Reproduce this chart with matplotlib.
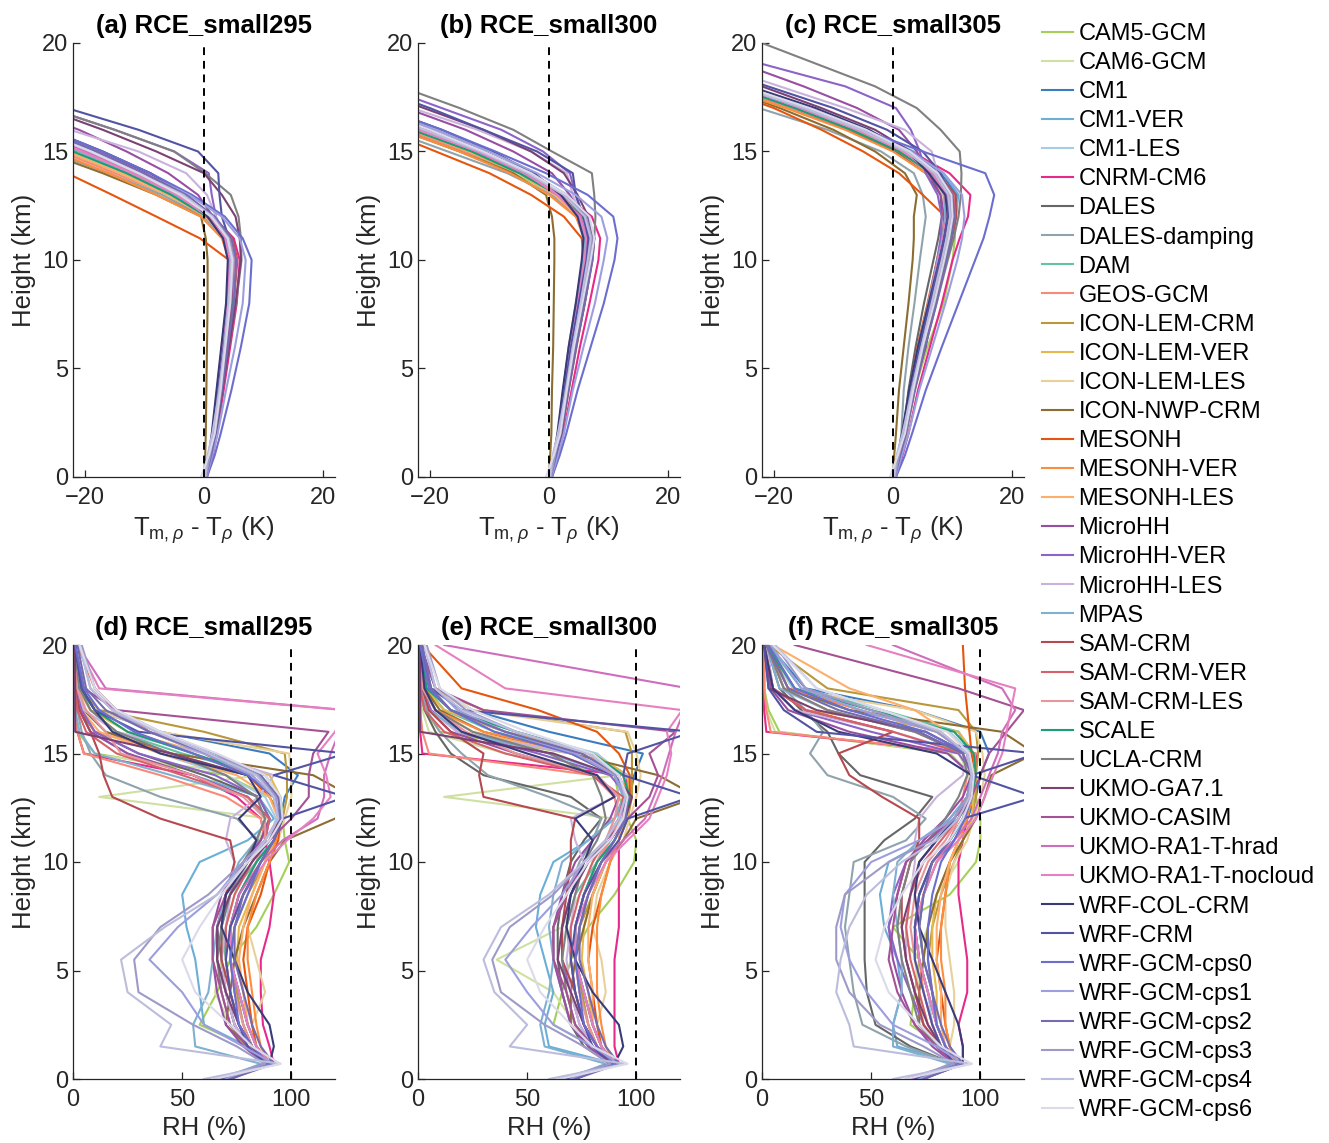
import numpy as np
import matplotlib
matplotlib.use("Agg")
import matplotlib.pyplot as plt

plt.rcParams['font.family'] = ['Liberation Sans', 'DejaVu Sans']
plt.rcParams['mathtext.fontset'] = 'custom'
plt.rcParams['mathtext.rm'] = 'Liberation Sans'
plt.rcParams['mathtext.it'] = 'Liberation Sans:italic'

models = ['CAM5-GCM', 'CAM6-GCM', 'CM1', 'CM1-VER', 'CM1-LES', 'CNRM-CM6', 'DALES',
          'DALES-damping', 'DAM', 'GEOS-GCM', 'ICON-LEM-CRM', 'ICON-LEM-VER',
          'ICON-LEM-LES', 'ICON-NWP-CRM', 'MESONH', 'MESONH-VER', 'MESONH-LES',
          'MicroHH', 'MicroHH-VER', 'MicroHH-LES', 'MPAS', 'SAM-CRM', 'SAM-CRM-VER',
          'SAM-CRM-LES', 'SCALE', 'UCLA-CRM', 'UKMO-GA7.1', 'UKMO-CASIM',
          'UKMO-RA1-T-hrad', 'UKMO-RA1-T-nocloud', 'WRF-COL-CRM', 'WRF-CRM',
          'WRF-GCM-cps0', 'WRF-GCM-cps1', 'WRF-GCM-cps2', 'WRF-GCM-cps3',
          'WRF-GCM-cps4', 'WRF-GCM-cps6']

colors = ['#a6cf5a', '#cfe0a0', '#3a7dbf', '#6baed6', '#a6cde6', '#e7298a', '#666666',
          '#8fa3ad', '#66c2a5', '#f88a7a', '#b8983a', '#e6b84a', '#e8d09a', '#8c6d31',
          '#e6550d', '#fd8d3c', '#fdae6b', '#984ea3', '#8c63c8', '#c9b3dc', '#7fb0d0',
          '#b5494f', '#d6616b', '#e7969c', '#1b9e77', '#808080', '#7b4173', '#a55194',
          '#ce6dbd', '#e680c0', '#393b79', '#5254a3', '#6b6ecf', '#9c9ede', '#756bb1',
          '#9e9ac8', '#bcbddc', '#dadaeb']

cases = ['RCE_small295', 'RCE_small300', 'RCE_small305']

# heights (km) of the profile values
z_temp = [0, 1, 2, 4, 6, 8, 10, 11, 12, 13, 14, 15, 16, 17, 18, 20]
z_rh = [0, 0.7, 1.5, 2.5, 4, 5.5, 7, 8.5, 10, 11, 12, 13, 14, 15, 16, 17, 18, 20]

# T_m,rho - T_rho (K)
temp_295 = [
    [0.2, 1.2, 1.8, 2.6, 3.5, 4.4, 4.6, 3.5, 0.5, -6, -14, -23, -32, -42, -52, -72],
    [0.3, 1.0, 1.5, 2.3, 3.0, 3.8, 4.2, 3.4, 0.2, -7, -15, -24, -33, -43, -53, -73],
    [0.3, 1.1, 1.7, 2.6, 3.6, 4.7, 5.2, 4.2, 1.2, -3.5, -10, -18, -27, -37, -47, -67],
    [0.2, 1.0, 1.6, 2.5, 3.4, 4.5, 5.0, 4.0, 1.0, -4, -11, -19, -28, -38, -48, -68],
    [0.3, 1.0, 1.5, 2.3, 3.2, 4.1, 4.6, 3.6, 0.8, -4.5, -12, -20, -29, -39, -49, -69],
    [0.5, 1.5, 2.2, 3.3, 4.4, 5.5, 6.0, 5.0, 1.5, -3, -9, -18, -27, -37, -47, -67],
    [0.3, 1.0, 1.6, 2.5, 3.4, 4.3, 4.8, 3.9, 1.0, -4, -11, -19, -28, -38, -48, -68],
    [0.3, 1.0, 1.5, 2.3, 3.1, 4.0, 4.3, 3.2, 0.0, -7, -16, -26, -36, -46, -56, -76],
    [0.3, 1.1, 1.8, 2.7, 3.7, 4.6, 4.8, 3.6, 0.5, -6, -14, -23, -32, -42, -52, -72],
    [0.2, 1.0, 1.5, 2.2, 3.0, 4.0, 4.5, 3.6, 0.4, -6, -15, -24, -33, -43, -53, -73],
    [0.3, 1.0, 1.6, 2.5, 3.4, 4.3, 4.7, 3.8, 0.8, -5, -13, -21, -30, -40, -50, -70],
    [0.3, 1.0, 1.6, 2.4, 3.3, 4.2, 4.6, 3.6, 0.6, -5.5, -13.5, -22, -31, -41, -51, -71],
    [0.2, 0.9, 1.5, 2.3, 3.1, 4.0, 4.4, 3.5, 0.5, -6, -14, -22, -31, -41, -51, -71],
    [0.0, 0.2, 0.3, 0.4, 0.5, 0.6, 0.6, 0.3, -0.5, -8, -17, -27, -37, -47, -57, -77],
    [0.3, 1.0, 1.5, 2.4, 3.2, 4.1, 4.2, -0.7, -8, -15.4, -23, -31, -40, -50, -60, -80],
    [0.3, 1.0, 1.6, 2.5, 3.3, 4.2, 4.2, 3.0, -0.5, -8, -16, -25, -34, -44, -54, -74],
    [0.3, 1.0, 1.6, 2.5, 3.3, 4.2, 4.5, 3.4, 0.3, -6, -14, -23, -32, -42, -52, -72],
    [0.3, 1.1, 1.7, 2.6, 3.5, 4.4, 4.8, 4.0, 1.5, -1, -6, -13, -21, -31, -41, -61],
    [0.3, 1.1, 1.7, 2.6, 3.5, 4.4, 4.8, 3.5, 2.0, 1.3, 0.8, -5, -15, -26, -36, -56],
    [0.3, 1.0, 1.6, 2.5, 3.4, 4.3, 4.8, 4.0, 2.0, 0.5, -3, -11, -22.5, -33, -43, -63],
    [0.2, 0.9, 1.4, 2.2, 3.0, 3.8, 4.2, 3.4, 0.6, -5, -13, -21, -30, -40, -50, -70],
    [0.4, 1.2, 2.0, 3.0, 4.0, 5.0, 5.6, 4.8, 1.5, -3.5, -10, -18, -27, -37, -47, -67],
    [0.4, 1.2, 1.9, 2.9, 3.9, 4.9, 5.5, 4.6, 1.3, -4, -11, -19, -28, -38, -48, -68],
    [0.3, 1.1, 1.8, 2.7, 3.7, 4.7, 5.2, 4.3, 1.0, -4.5, -12, -20, -29, -39, -49, -69],
    [0.3, 1.2, 2.0, 3.0, 4.0, 4.7, 4.8, 3.8, 0.5, -5.5, -13, -22, -31, -41, -51, -71],
    [0.4, 1.3, 2.0, 3.1, 4.2, 5.4, 6.3, 6.2, 5.8, 4.5, 0.2, -5, -15, -26, -36, -56],
    [0.4, 1.3, 2.0, 3.1, 4.2, 5.3, 6.2, 6.0, 5.3, 3.0, 0.0, -8, -17, -27, -37, -57],
    [0.3, 1.1, 1.8, 2.7, 3.7, 4.6, 5.0, 4.2, 1.5, -3, -10, -18, -27, -37, -47, -67],
    [0.3, 1.0, 1.6, 2.4, 3.2, 4.0, 4.4, 3.6, 0.8, -4.5, -12, -20, -29, -39, -49, -69],
    [0.3, 1.0, 1.5, 2.3, 3.0, 3.9, 4.3, 3.5, 0.7, -4.5, -12, -20.5, -29, -39, -49, -69],
    [0.2, 0.8, 1.3, 2.1, 2.9, 3.7, 4.0, 3.2, 0.6, -3, -9, -17, -26, -36, -46, -66],
    [0.3, 1.0, 1.6, 2.4, 3.3, 4.2, 4.8, 4.2, 3.0, 2.6, 2.4, -1, -11, -23, -33, -53],
    [0.5, 1.8, 2.8, 4.6, 6.2, 7.6, 8.0, 6.5, 3.5, -2, -9, -17, -26, -36, -46, -66],
    [0.4, 1.4, 2.3, 3.7, 5.2, 6.5, 7.0, 6.0, 3.0, -2.5, -10, -18, -27, -37, -47, -67],
    [0.3, 1.2, 1.9, 3.0, 4.0, 5.0, 5.4, 4.6, 1.8, -3, -10, -18, -27, -37, -47, -67],
    [0.3, 1.0, 1.6, 2.5, 3.5, 4.4, 5.0, 4.2, 1.5, -3.5, -11, -19, -28, -38, -48, -68],
    [0.2, 0.6, 1.4, 2.6, 3.4, 4.1, 4.6, 3.9, 1.4, -3.5, -11, -19, -28, -38, -48, -68],
    [-0.5, 0.8, 1.8, 2.8, 3.6, 4.4, 4.8, 4.0, 1.2, -4, -11, -19, -28, -38, -48, -68],
]

temp_300 = [
    [0.2, 1.2, 1.9, 2.9, 4.0, 5.4, 6.4, 6.5, 5.0, 1.0, -6, -14, -23, -33, -43, -63],
    [0.3, 1.0, 1.6, 2.5, 3.5, 4.8, 5.8, 6.0, 4.6, 0.5, -6.5, -15, -24, -34, -44, -64],
    [0.3, 1.1, 1.8, 2.9, 4.2, 5.7, 7.2, 7.6, 6.5, 2.8, -3, -11, -21, -31, -41, -61],
    [0.2, 1.0, 1.7, 2.7, 3.9, 5.3, 6.8, 7.2, 6.0, 2.2, -3.5, -11.5, -21, -31, -41, -61],
    [0.3, 1.0, 1.6, 2.5, 3.6, 4.9, 6.2, 6.5, 5.4, 1.8, -4, -12, -22, -32, -42, -62],
    [0.5, 1.6, 2.4, 3.8, 5.2, 6.8, 8.3, 8.6, 7.2, 2.5, -3, -11, -21, -31, -41, -61],
    [0.3, 1.0, 1.6, 2.6, 3.7, 5.0, 6.2, 6.4, 5.3, 1.5, -4.5, -13, -23, -33, -43, -63],
    [0.3, 1.0, 1.5, 2.4, 3.4, 4.7, 5.7, 5.8, 4.6, 0.5, -7, -17, -27, -37, -47, -67],
    [0.3, 1.1, 1.8, 2.9, 4.1, 5.5, 6.8, 7.0, 5.7, 1.8, -4, -12, -22, -32, -42, -62],
    [0.2, 1.0, 1.5, 2.4, 3.4, 4.7, 5.8, 6.0, 4.8, 1.0, -5, -14, -24, -34, -44, -64],
    [0.3, 1.0, 1.6, 2.6, 3.7, 5.0, 6.2, 6.5, 5.4, 1.6, -4.5, -12.5, -22, -32, -42, -62],
    [0.3, 1.0, 1.6, 2.5, 3.6, 4.9, 6.0, 6.3, 5.2, 1.2, -5, -13, -23, -33, -43, -63],
    [0.2, 0.9, 1.5, 2.4, 3.4, 4.6, 5.8, 6.0, 5.0, 1.0, -5, -13, -23, -33, -43, -63],
    [0.0, 0.2, 0.4, 0.5, 0.7, 0.8, 0.9, 0.9, 0.5, -0.5, -6, -15, -25, -35, -45, -65],
    [0.3, 1.0, 1.6, 2.5, 3.5, 4.7, 5.8, 5.5, 2.5, -3, -10, -19, -28, -38, -48, -68],
    [0.3, 1.0, 1.6, 2.6, 3.6, 4.9, 6.0, 6.0, 4.5, 0.0, -6.5, -15, -25, -35, -45, -65],
    [0.3, 1.0, 1.6, 2.6, 3.6, 4.9, 6.1, 6.3, 5.0, 1.0, -5, -13.5, -23, -33, -43, -63],
    [0.3, 1.1, 1.8, 2.8, 3.9, 5.2, 6.5, 6.8, 5.8, 3.5, 0.5, -6, -14, -24, -34, -54],
    [0.3, 1.1, 1.8, 2.8, 3.9, 5.2, 6.5, 6.8, 5.5, 4.5, 3.5, -1, -8, -18, -28, -48],
    [0.3, 1.0, 1.7, 2.7, 3.8, 5.0, 6.3, 6.5, 5.5, 4.0, 3.0, -3, -12, -23, -33, -53],
    [0.2, 0.9, 1.5, 2.4, 3.3, 4.5, 5.7, 6.0, 5.0, 1.5, -4.5, -12.5, -22, -32, -42, -62],
    [0.4, 1.3, 2.1, 3.3, 4.6, 6.0, 7.3, 7.6, 6.4, 2.5, -3.5, -11, -20, -30, -40, -60],
    [0.4, 1.2, 2.0, 3.2, 4.4, 5.8, 7.0, 7.4, 6.2, 2.2, -4, -12, -21, -31, -41, -61],
    [0.3, 1.1, 1.9, 3.0, 4.2, 5.5, 6.7, 7.0, 5.9, 2.0, -4, -12, -21.5, -31, -41, -61],
    [0.3, 1.2, 2.0, 3.2, 4.4, 5.8, 6.9, 7.0, 5.6, 1.5, -5, -13, -23, -33, -43, -63],
    [0.4, 1.3, 2.1, 3.3, 4.6, 6.0, 7.2, 7.6, 7.8, 7.6, 7.2, 0.5, -6, -15, -25, -45],
    [0.4, 1.3, 2.1, 3.2, 4.5, 5.9, 7.1, 7.4, 6.6, 4.8, 2.5, -3, -11, -21, -31, -51],
    [0.3, 1.1, 1.8, 2.9, 4.0, 5.4, 6.6, 6.9, 5.8, 2.5, -3, -11, -20, -30, -40, -60],
    [0.3, 1.0, 1.6, 2.6, 3.6, 4.9, 6.1, 6.4, 5.3, 1.5, -4, -12, -21.5, -31, -41, -61],
    [0.3, 1.0, 1.6, 2.5, 3.5, 4.8, 6.0, 6.3, 5.1, 1.4, -4, -12, -22, -32, -42, -62],
    [0.2, 0.8, 1.4, 2.3, 3.3, 4.5, 5.5, 5.8, 4.8, 2.0, -2.5, -9.5, -18, -28, -38, -58],
    [0.3, 1.0, 1.6, 2.6, 3.7, 5.0, 6.3, 6.6, 5.8, 4.5, 4.0, -2, -11, -20, -30, -50],
    [0.5, 1.8, 2.9, 4.8, 7.0, 9.2, 11.0, 11.5, 10.8, 6.5, -0.5, -9, -18, -28, -38, -58],
    [0.4, 1.5, 2.5, 4.0, 5.8, 7.7, 9.2, 9.8, 8.8, 4.5, -2, -10, -19, -29, -39, -59],
    [0.3, 1.2, 2.0, 3.2, 4.5, 6.0, 7.3, 7.6, 6.6, 3.0, -3, -11, -20, -30, -40, -60],
    [0.3, 1.0, 1.7, 2.8, 4.0, 5.4, 6.8, 7.2, 6.2, 2.5, -3.5, -11.5, -21, -31, -41, -61],
    [0.2, 0.6, 1.5, 2.9, 4.0, 5.3, 6.5, 7.0, 6.0, 2.5, -3.5, -11.5, -21, -31, -41, -61],
    [-0.5, 0.8, 1.9, 3.0, 4.2, 5.6, 7.0, 7.6, 6.8, 3.0, -3, -11, -20, -30, -40, -60],
]

temp_305 = [
    [0.2, 1.2, 2.0, 3.6, 5.8, 8.5, 10.0, 10.4, 10.4, 9.8, 7.0, 2.0, -6, -16, -27, -49],
    [0.3, 1.0, 1.7, 3.0, 4.6, 6.5, 8.2, 8.8, 9.0, 8.5, 6.0, 1.0, -7, -17, -28, -50],
    [0.3, 1.2, 2.0, 3.4, 5.1, 7.0, 8.8, 9.8, 10.6, 10.8, 8.0, 3.0, -5, -14, -25, -47],
    [0.2, 1.0, 1.9, 3.3, 4.9, 6.8, 8.6, 9.6, 10.5, 11.0, 8.5, 3.5, -4.5, -14, -25, -47],
    [0.3, 1.0, 1.8, 3.1, 4.6, 6.4, 8.1, 9.0, 9.8, 10.0, 7.5, 2.5, -5.5, -15, -26, -48],
    [0.5, 1.6, 2.6, 4.2, 6.2, 8.2, 10.0, 11.2, 12.6, 13.0, 9.5, 3.0, -5, -14, -25, -47],
    [0.3, 1.0, 1.7, 2.6, 3.8, 5.2, 6.8, 7.6, 8.2, 8.0, 5.5, 0.5, -7.5, -17, -28, -50],
    [0.3, 0.9, 1.4, 1.8, 2.6, 3.6, 4.5, 5.0, 5.5, 5.0, 3.5, -2, -11, -22.5, -34, -56],
    [0.3, 1.1, 2.0, 3.3, 4.9, 6.8, 8.6, 9.5, 10.2, 10.0, 7.0, 2.0, -6, -15, -26, -48],
    [0.2, 1.0, 1.6, 2.8, 4.2, 6.0, 7.6, 8.4, 9.0, 8.6, 6.0, 1.0, -7, -17, -28, -50],
    [0.3, 1.0, 1.8, 3.0, 4.5, 6.2, 7.8, 8.6, 9.2, 9.0, 7.0, 2.5, -5, -15, -26, -48],
    [0.3, 1.0, 1.7, 2.9, 4.3, 6.0, 7.6, 8.4, 8.8, 8.4, 6.5, 2.0, -5.5, -15, -26, -48],
    [0.2, 0.9, 1.6, 2.8, 4.2, 5.9, 7.4, 8.2, 8.6, 8.2, 6.2, 1.5, -6, -16, -27, -49],
    [0.0, 0.2, 0.5, 1.0, 1.8, 2.6, 3.3, 3.5, 3.5, 4.0, 2.0, -3, -10, -19, -29, -51],
    [0.3, 1.0, 1.7, 2.8, 4.1, 5.8, 7.4, 8.2, 8.8, 5.0, 1.0, -5, -12, -20, -30, -52],
    [0.3, 1.0, 1.8, 3.0, 4.5, 6.2, 7.8, 8.7, 9.4, 9.0, 5.5, 0.0, -8, -18, -29, -51],
    [0.3, 1.0, 1.8, 3.0, 4.4, 6.1, 7.7, 8.6, 9.2, 9.0, 6.5, 1.5, -6.5, -16, -27, -49],
    [0.3, 1.1, 1.9, 3.1, 4.6, 6.3, 7.8, 8.4, 8.6, 8.0, 6.0, 4.0, 1.0, -6, -15, -35],
    [0.3, 1.1, 1.9, 3.0, 4.4, 6.0, 7.4, 8.0, 8.2, 7.5, 5.5, 4.5, 3.0, 0.5, -8, -35],
    [0.3, 1.0, 1.8, 3.0, 4.4, 6.1, 7.6, 8.4, 8.8, 8.5, 7.5, 6.5, 2.0, -8, -19, -41],
    [0.2, 0.9, 1.6, 2.8, 4.2, 5.9, 7.5, 8.3, 8.8, 8.6, 6.5, 2.0, -6, -16, -27, -49],
    [0.4, 1.3, 2.2, 3.6, 5.3, 7.2, 9.0, 9.9, 10.6, 10.5, 7.5, 2.5, -5, -14.5, -25, -47],
    [0.4, 1.2, 2.1, 3.5, 5.1, 7.0, 8.8, 9.7, 10.4, 10.2, 7.2, 2.2, -5.5, -15, -26, -48],
    [0.3, 1.1, 2.0, 3.3, 4.9, 6.7, 8.5, 9.4, 10.0, 9.8, 7.0, 2.0, -6, -15.5, -26, -48],
    [0.3, 1.2, 2.1, 3.5, 5.1, 6.9, 8.6, 9.5, 10.0, 9.6, 6.5, 1.0, -7, -16.5, -27, -49],
    [0.4, 1.3, 2.2, 3.7, 5.4, 7.3, 9.2, 10.2, 11.0, 11.4, 11.5, 11.2, 8.0, 4.0, -3, -22],
    [0.4, 1.2, 2.0, 3.3, 5.5, 6.8, 8.0, 8.6, 9.0, 8.8, 6.8, 3.0, -3, -12, -22, -44],
    [0.3, 1.1, 1.9, 3.2, 4.8, 6.6, 8.4, 9.2, 9.8, 9.5, 7.0, 2.0, -5.5, -15, -26, -48],
    [0.3, 1.0, 1.8, 3.0, 4.4, 6.1, 7.8, 8.6, 9.2, 9.0, 6.8, 2.0, -5.5, -15, -26, -48],
    [0.3, 1.0, 1.7, 2.9, 4.3, 6.0, 7.6, 8.4, 9.0, 8.8, 6.6, 1.8, -6, -15.5, -26, -48],
    [0.2, 0.8, 1.5, 2.7, 4.2, 6.0, 7.8, 8.6, 9.2, 8.8, 6.0, 2.5, -4, -13, -24, -46],
    [0.3, 1.0, 1.8, 3.0, 4.5, 6.2, 7.8, 8.6, 9.2, 9.4, 8.0, 5.0, -1, -10, -21, -43],
    [0.5, 2.0, 3.2, 5.5, 8.2, 11.0, 13.8, 15.2, 16.2, 17.0, 15.5, 5.0, -5, -15, -26, -48],
    [0.4, 1.5, 2.6, 4.4, 6.6, 8.8, 10.8, 11.6, 12.0, 11.6, 8.5, 3.0, -5, -14.5, -25, -47],
    [0.3, 1.2, 2.1, 3.6, 5.4, 7.3, 9.0, 9.8, 10.3, 10.0, 7.5, 2.5, -5, -14.5, -25, -47],
    [0.3, 1.0, 1.8, 3.1, 4.8, 6.6, 8.3, 9.1, 9.7, 9.5, 7.2, 2.5, -5, -14.5, -25, -47],
    [0.2, 0.6, 1.6, 3.2, 4.8, 6.5, 8.2, 9.0, 9.6, 9.3, 7.0, 2.2, -5.5, -15, -26, -48],
    [-0.5, 0.8, 2.0, 3.4, 5.0, 6.9, 8.6, 9.4, 10.0, 9.8, 7.5, 2.8, -4.5, -14, -25, -47],
]

# relative humidity (%)
rh_295 = [
    [72, 90, 80, 58, 66, 72, 84, 92, 99, 97, 96, 90, 70, 10, 2, 1, 1, 1],
    [70, 88, 80, 72, 65, 68, 70, 74, 80, 85, 90, 12, 85, 5, 2, 1, 1, 1],
    [70, 90, 84, 80, 76, 72, 72, 78, 86, 92, 95, 97, 103, 90, 40, 10, 4, 1],
    [68, 90, 80, 60, 58, 56, 52, 50, 58, 80, 92, 85, 55, 25, 8, 3, 1, 1],
    [70, 91, 82, 78, 75, 72, 72, 76, 84, 90, 93, 88, 70, 40, 15, 5, 2, 1],
    [68, 92, 90, 87, 86, 86, 90, 92, 90, 88, 86, 75, 55, 5, 2, 1, 1, 1],
    [70, 90, 80, 74, 70, 68, 66, 70, 78, 86, 90, 85, 60, 30, 10, 3, 1, 1],
    [70, 90, 80, 74, 70, 66, 66, 72, 80, 85, 75, 40, 15, 8, 4, 2, 1, 1],
    [70, 90, 82, 76, 72, 70, 68, 72, 84, 92, 96, 95, 88, 50, 20, 8, 3, 1],
    [70, 88, 82, 78, 74, 72, 72, 76, 84, 88, 86, 70, 40, 5, 2, 1, 1, 1],
    [70, 90, 82, 78, 75, 72, 74, 80, 88, 92, 96, 98, 98, 97, 60, 12, 3, 1],
    [70, 90, 84, 80, 78, 75, 76, 82, 88, 93, 96, 95, 90, 60, 25, 8, 2, 1],
    [70, 90, 84, 82, 88, 84, 80, 84, 90, 94, 97, 100, 100, 99, 40, 10, 3, 1],
    [70, 88, 80, 70, 72, 74, 78, 84, 90, 97, 120, 128, 110, 45, 15, 5, 2, 1],
    [70, 90, 84, 82, 80, 78, 80, 86, 90, 94, 95, 90, 80, 60, 35, 20, 10, 2],
    [70, 90, 86, 84, 82, 80, 80, 84, 90, 93, 95, 92, 80, 45, 10, 4, 1, 1],
    [70, 90, 84, 80, 78, 76, 78, 82, 88, 92, 94, 90, 75, 40, 12, 4, 1, 1],
    [68, 88, 78, 70, 66, 64, 64, 68, 78, 86, 90, 80, 55, 25, 8, 3, 1, 1],
    [70, 90, 80, 74, 70, 66, 66, 70, 80, 88, 90, 85, 65, 30, 10, 4, 2, 1],
    [70, 88, 80, 74, 70, 68, 70, 72, 74, 70, 72, 85, 92, 60, 20, 5, 2, 1],
    [68, 86, 56, 55, 62, 64, 66, 70, 76, 84, 88, 80, 45, 10, 3, 1, 1, 1],
    [70, 90, 82, 76, 72, 68, 68, 70, 74, 72, 40, 18, 14, 12, 8, 3, 1, 1],
    [70, 90, 82, 76, 72, 70, 70, 74, 82, 88, 90, 80, 50, 20, 6, 2, 1, 1],
    [70, 90, 82, 78, 74, 72, 72, 76, 84, 88, 88, 78, 55, 22, 15, 6, 2, 1],
    [70, 90, 84, 80, 76, 72, 72, 76, 84, 92, 96, 94, 85, 55, 25, 10, 3, 1],
    [70, 88, 80, 72, 68, 66, 68, 72, 78, 84, 88, 84, 70, 45, 20, 8, 3, 1],
    [70, 88, 82, 76, 70, 66, 66, 72, 82, 90, 95, 92, 80, 45, 1, 1, 1, 1],
    [70, 88, 80, 72, 68, 64, 64, 70, 80, 90, 100, 108, 108, 110, 117, 20, 5, 1],
    [70, 90, 84, 80, 76, 72, 72, 76, 86, 96, 112, 115, 115, 118, 122, 125, 15, 2],
    [70, 90, 84, 80, 76, 72, 72, 78, 88, 98, 110, 118, 116, 112, 120, 124, 12, 2],
    [72, 90, 92, 90, 80, 74, 68, 70, 80, 84, 76, 86, 80, 40, 18, 10, 4, 1],
    [68, 88, 80, 76, 72, 70, 72, 78, 86, 92, 96, 125, 92, 125, 30, 10, 4, 1],
    [70, 90, 82, 76, 74, 72, 74, 80, 86, 92, 95, 92, 80, 55, 28, 12, 5, 1],
    [70, 92, 78, 60, 50, 35, 48, 66, 78, 88, 94, 92, 82, 60, 35, 18, 8, 3],
    [72, 92, 86, 82, 78, 74, 74, 78, 86, 92, 95, 94, 86, 62, 35, 15, 6, 2],
    [65, 88, 75, 55, 30, 28, 40, 62, 78, 88, 94, 93, 85, 65, 40, 20, 10, 4],
    [60, 95, 40, 45, 25, 22, 42, 66, 80, 88, 94, 92, 84, 62, 38, 18, 8, 3],
    [65, 95, 82, 72, 56, 50, 58, 68, 80, 90, 96, 95, 88, 66, 40, 20, 10, 3],
]

rh_300 = [
    [72, 90, 80, 62, 66, 70, 78, 90, 99, 100, 96, 92, 90, 70, 10, 3, 1, 1],
    [70, 88, 80, 72, 62, 36, 66, 74, 80, 86, 90, 12, 92, 40, 5, 2, 1, 1],
    [70, 90, 84, 80, 76, 72, 72, 76, 82, 88, 94, 97, 99, 103, 60, 25, 8, 1],
    [68, 90, 60, 58, 62, 58, 54, 56, 62, 78, 90, 96, 96, 80, 40, 12, 3, 1],
    [70, 91, 82, 78, 75, 72, 72, 76, 82, 88, 93, 96, 94, 82, 45, 15, 5, 1],
    [68, 92, 90, 90, 90, 90, 92, 92, 92, 92, 94, 95, 96, 2, 1, 1, 1, 1],
    [70, 88, 76, 70, 66, 64, 64, 66, 70, 76, 84, 70, 30, 15, 8, 3, 1, 1],
    [70, 88, 78, 70, 66, 62, 62, 68, 74, 80, 84, 60, 32, 20, 10, 4, 1, 1],
    [70, 90, 82, 76, 72, 70, 68, 72, 82, 90, 95, 97, 94, 75, 35, 12, 4, 1],
    [70, 88, 82, 78, 74, 72, 72, 76, 82, 88, 92, 90, 80, 5, 2, 1, 1, 1],
    [70, 90, 82, 78, 75, 72, 74, 80, 86, 92, 96, 98, 98, 98, 95, 30, 6, 1],
    [70, 90, 84, 80, 78, 75, 76, 80, 86, 92, 96, 97, 96, 80, 40, 12, 3, 1],
    [70, 90, 84, 82, 86, 84, 80, 82, 88, 94, 97, 100, 102, 100, 96, 25, 5, 1],
    [70, 88, 80, 70, 70, 72, 76, 80, 86, 94, 100, 128, 110, 70, 30, 10, 3, 1],
    [70, 90, 84, 82, 80, 78, 80, 84, 88, 92, 95, 97, 97, 92, 82, 55, 20, 2],
    [70, 90, 86, 84, 82, 82, 82, 84, 88, 92, 95, 96, 94, 75, 30, 8, 2, 1],
    [70, 90, 84, 80, 80, 78, 78, 80, 86, 92, 94, 96, 92, 70, 25, 8, 2, 1],
    [68, 88, 78, 70, 66, 62, 62, 66, 72, 80, 88, 92, 80, 45, 15, 5, 2, 1],
    [70, 90, 80, 74, 70, 66, 66, 70, 78, 86, 92, 96, 88, 55, 18, 6, 2, 1],
    [70, 88, 80, 74, 70, 68, 70, 72, 76, 72, 70, 90, 96, 70, 18, 5, 2, 1],
    [68, 86, 58, 56, 60, 62, 60, 62, 66, 78, 90, 94, 90, 60, 20, 5, 1, 1],
    [70, 90, 82, 76, 72, 66, 66, 68, 70, 70, 72, 30, 28, 30, 15, 5, 2, 1],
    [70, 90, 82, 76, 72, 70, 70, 74, 80, 86, 92, 94, 80, 40, 12, 3, 1, 1],
    [70, 90, 82, 78, 74, 72, 72, 76, 82, 86, 90, 92, 82, 45, 22, 8, 2, 1],
    [70, 90, 84, 80, 76, 72, 72, 76, 82, 90, 95, 97, 94, 80, 45, 15, 4, 1],
    [70, 88, 80, 72, 68, 66, 68, 72, 76, 82, 86, 84, 80, 60, 25, 8, 3, 1],
    [70, 88, 82, 76, 70, 64, 66, 70, 78, 88, 95, 98, 90, 62, 1, 1, 1, 1],
    [70, 88, 80, 72, 68, 62, 62, 68, 76, 86, 96, 106, 110, 106, 118, 30, 8, 1],
    [70, 90, 84, 80, 76, 72, 72, 76, 84, 94, 104, 108, 112, 115, 118, 122, 124, 12],
    [70, 90, 84, 80, 76, 72, 72, 78, 86, 96, 106, 110, 114, 116, 114, 121, 40, 8],
    [72, 90, 94, 92, 80, 72, 68, 70, 76, 80, 72, 90, 82, 50, 20, 8, 3, 1],
    [68, 88, 80, 76, 72, 70, 72, 76, 84, 92, 96, 125, 94, 96, 126, 20, 6, 1],
    [70, 90, 82, 76, 74, 72, 74, 78, 84, 90, 95, 96, 90, 70, 35, 15, 5, 1],
    [70, 92, 80, 62, 50, 40, 52, 66, 76, 86, 92, 95, 90, 72, 40, 18, 8, 3],
    [72, 92, 86, 82, 78, 74, 74, 78, 84, 90, 95, 96, 92, 75, 40, 15, 6, 2],
    [65, 88, 76, 58, 38, 34, 42, 62, 76, 86, 92, 95, 92, 78, 45, 22, 10, 4],
    [60, 95, 42, 50, 35, 30, 38, 60, 76, 86, 92, 95, 92, 78, 45, 20, 8, 3],
    [65, 96, 80, 70, 56, 50, 58, 68, 78, 88, 94, 96, 92, 80, 50, 25, 10, 3],
]

rh_305 = [
    [72, 90, 82, 68, 70, 72, 60, 86, 98, 100, 100, 98, 96, 86, 8, 3, 1, 1],
    [70, 88, 80, 74, 72, 70, 76, 80, 90, 92, 92, 94, 95, 90, 6, 2, 1, 1],
    [72, 90, 84, 80, 78, 74, 72, 74, 80, 88, 94, 98, 100, 104, 100, 70, 20, 3],
    [70, 90, 62, 60, 64, 62, 56, 54, 58, 76, 90, 96, 96, 95, 90, 40, 10, 2],
    [72, 91, 82, 78, 76, 72, 70, 72, 78, 86, 92, 96, 97, 96, 86, 45, 14, 2],
    [68, 92, 92, 90, 94, 94, 92, 90, 90, 92, 94, 96, 98, 98, 2, 1, 1, 1],
    [70, 88, 68, 52, 48, 47, 47, 47, 47, 56, 70, 78, 45, 35, 30, 18, 8, 2],
    [70, 88, 66, 46, 42, 40, 38, 40, 42, 66, 75, 60, 30, 22, 28, 20, 10, 3],
    [72, 90, 84, 80, 76, 72, 70, 72, 78, 86, 93, 97, 98, 97, 90, 55, 18, 3],
    [70, 88, 82, 78, 74, 72, 70, 74, 80, 86, 90, 92, 94, 98, 4, 2, 1, 1],
    [72, 90, 84, 80, 78, 76, 78, 82, 88, 92, 96, 98, 98, 99, 98, 90, 30, 3],
    [72, 90, 84, 80, 80, 78, 78, 80, 86, 92, 96, 97, 98, 97, 90, 20, 5, 1],
    [72, 90, 86, 88, 88, 86, 84, 84, 88, 94, 97, 100, 102, 101, 98, 70, 10, 2],
    [70, 88, 80, 72, 72, 74, 76, 80, 86, 92, 98, 102, 105, 125, 110, 40, 12, 3],
    [72, 90, 86, 84, 82, 80, 82, 84, 86, 90, 94, 96, 97, 96, 95, 94, 93, 92],
    [72, 90, 86, 84, 84, 82, 82, 84, 86, 90, 94, 96, 96, 94, 80, 45, 12, 2],
    [72, 90, 84, 82, 82, 80, 80, 82, 86, 90, 93, 96, 97, 95, 85, 70, 40, 5],
    [70, 88, 78, 70, 64, 60, 58, 62, 66, 74, 84, 92, 96, 85, 40, 12, 4, 1],
    [72, 90, 80, 74, 68, 62, 58, 60, 66, 76, 86, 94, 97, 90, 50, 15, 5, 2],
    [72, 88, 80, 74, 70, 66, 66, 68, 70, 70, 72, 80, 92, 94, 60, 15, 5, 2],
    [70, 86, 60, 60, 64, 64, 62, 60, 62, 72, 86, 94, 96, 94, 70, 30, 8, 2],
    [72, 90, 82, 74, 70, 66, 64, 64, 68, 72, 72, 55, 40, 35, 60, 20, 5, 1],
    [72, 90, 82, 76, 72, 68, 66, 68, 74, 82, 90, 95, 96, 92, 60, 20, 5, 1],
    [72, 90, 82, 78, 74, 70, 68, 70, 76, 84, 90, 95, 96, 92, 70, 30, 10, 2],
    [72, 90, 84, 80, 76, 72, 70, 72, 78, 86, 92, 96, 98, 97, 88, 50, 15, 2],
    [72, 88, 80, 72, 68, 64, 62, 64, 68, 76, 84, 90, 94, 92, 70, 30, 10, 2],
    [72, 88, 82, 76, 70, 66, 64, 68, 72, 80, 90, 96, 97, 94, 75, 25, 3, 1],
    [72, 88, 80, 70, 62, 58, 60, 62, 66, 76, 88, 96, 100, 104, 112, 120, 90, 15],
    [72, 90, 84, 80, 76, 72, 70, 72, 78, 88, 96, 100, 104, 108, 110, 116, 110, 60],
    [72, 90, 84, 80, 76, 72, 70, 74, 80, 90, 98, 102, 106, 110, 112, 114, 116, 48],
    [74, 92, 92, 90, 84, 78, 72, 70, 72, 80, 88, 94, 96, 80, 35, 15, 5, 1],
    [70, 88, 82, 78, 74, 70, 70, 72, 78, 86, 92, 125, 96, 126, 25, 10, 3, 1],
    [72, 90, 84, 80, 78, 76, 76, 78, 82, 88, 93, 96, 97, 94, 75, 40, 15, 3],
    [72, 92, 80, 60, 48, 40, 36, 38, 50, 72, 88, 94, 96, 94, 80, 45, 18, 4],
    [74, 92, 86, 82, 78, 74, 72, 74, 78, 86, 92, 96, 96, 92, 72, 35, 12, 2],
    [66, 88, 74, 54, 40, 34, 34, 38, 58, 78, 88, 94, 96, 94, 80, 50, 20, 6],
    [60, 96, 42, 40, 34, 36, 40, 48, 64, 80, 90, 95, 96, 94, 82, 55, 25, 6],
    [66, 96, 82, 72, 58, 52, 56, 64, 74, 86, 92, 96, 97, 95, 85, 55, 25, 5],
]

temp_data = [temp_295, temp_300, temp_305]
rh_data = [rh_295, rh_300, rh_305]

W, H = 1329, 1143
fig = plt.figure(figsize=(W / 100, H / 100), dpi=100)

lefts = [73, 418, 762]
axw = 262
tops = [43, 645]
axh = 434

spine_col = '#262626'


def style_axis(ax):
    for s in ['top', 'right']:
        ax.spines[s].set_visible(False)
    for s in ['left', 'bottom']:
        ax.spines[s].set_color(spine_col)
        ax.spines[s].set_linewidth(0.9)
    ax.tick_params(direction='in', length=5, width=0.9, colors=spine_col,
                   labelsize=17, labelcolor='#262626')
    ax.tick_params(axis='x', pad=7)
    ax.set_ylim(0, 20)
    ax.set_yticks([0, 5, 10, 15, 20])
    ax.set_ylabel('Height (km)', fontsize=18.5, color='#262626', labelpad=4)


letters = ['a', 'b', 'c', 'd', 'e', 'f']
handles = []
for j in range(3):
    # temperature difference panels
    ax = fig.add_axes([lefts[j] / W, 1 - (tops[0] + axh) / H, axw / W, axh / H])
    for i in range(len(models)):
        ln, = ax.plot(temp_data[j][i], z_temp, color=colors[i], lw=1.5)
        if j == 0:
            handles.append(ln)
    ax.axvline(0, color='k', ls='--', lw=1.4, dashes=(4, 3))
    ax.set_xlim(-22, 22)
    ax.set_xticks([-20, 0, 20])
    style_axis(ax)
    ax.set_xlabel(r'T$_{\mathrm{m},\rho}$ - T$_{\rho}$ (K)', fontsize=18.5, color='#262626',
                  labelpad=4)
    ax.set_title('(%s) %s' % (letters[j], cases[j]), fontsize=18.5, fontweight='bold', pad=7)

    # relative humidity panels
    ax = fig.add_axes([lefts[j] / W, 1 - (tops[1] + axh) / H, axw / W, axh / H])
    for i in range(len(models)):
        ax.plot(rh_data[j][i], z_rh, color=colors[i], lw=1.5)
    ax.axvline(100, color='k', ls='--', lw=1.4, dashes=(4, 3))
    ax.set_xlim(0, 120)
    ax.set_xticks([0, 50, 100])
    style_axis(ax)
    ax.set_xlabel('RH (%)', fontsize=18.5, color='#262626', labelpad=4)
    ax.set_title('(%s) %s' % (letters[j + 3], cases[j]), fontsize=18.5, fontweight='bold', pad=7)

fig.legend(handles, models, loc='upper left', bbox_to_anchor=(1042 / W, 1 - 23 / H),
           frameon=False, fontsize=17, handlelength=1.3, handletextpad=0.25,
           labelspacing=0.30, borderpad=0, borderaxespad=0)

fig.savefig('out.png', dpi=100)
